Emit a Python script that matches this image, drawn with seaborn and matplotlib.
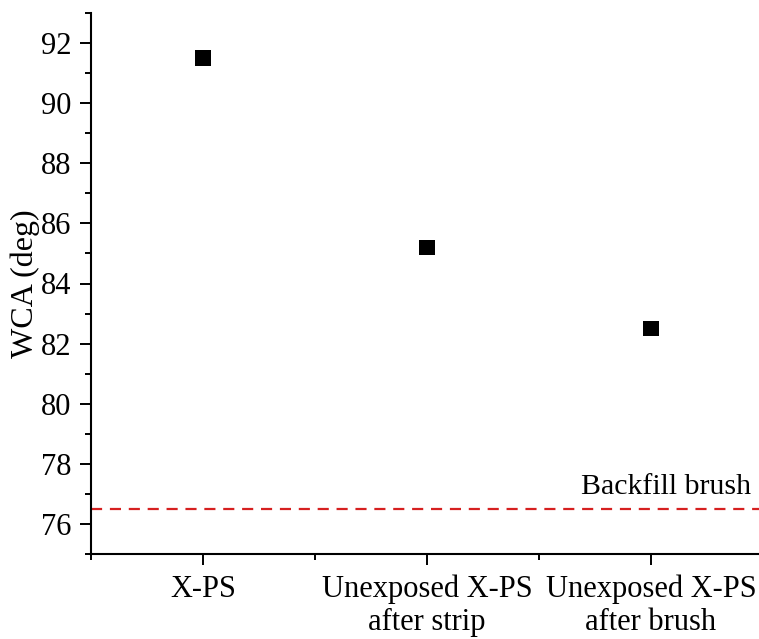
import matplotlib
matplotlib.use("Agg")
import matplotlib.pyplot as plt
from matplotlib.ticker import FixedLocator
import seaborn as sns
import pandas as pd

samples = ["X-PS", "Unexposed X-PS\nafter strip", "Unexposed X-PS\nafter brush"]
wca = [91.5, 85.2, 82.5]
backfill_wca = 76.5
backfill_label = "Backfill brush"

sns.set_theme(style="ticks")
plt.rcParams["font.family"] = ["Liberation Serif", "DejaVu Serif"]
plt.rcParams["text.color"] = "black"
plt.rcParams["axes.labelcolor"] = "black"

df = pd.DataFrame({"sample": samples, "wca": wca})

fig = plt.figure(figsize=(7.59, 6.39), dpi=100)
ax = fig.add_axes([91 / 759, 1 - 554 / 639, (763 - 91) / 759, (554 - 13) / 639])

sns.scatterplot(data=df, x="sample", y="wca", marker="s", s=120,
                color="black", edgecolor="none", ax=ax, zorder=3)

ax.axhline(backfill_wca, color="#d62020", linestyle=(0, (5, 3.5)), linewidth=1.6, zorder=2)
ax.text(2.445, backfill_wca + 0.3, backfill_label, ha="right", va="bottom",
        fontsize=21.5, color="black")

ax.set_xlim(-0.5, 2.5)
ax.set_ylim(75, 93)
ax.yaxis.set_major_locator(FixedLocator([76, 78, 80, 82, 84, 86, 88, 90, 92]))
ax.yaxis.set_minor_locator(FixedLocator([75, 77, 79, 81, 83, 85, 87, 89, 91, 93]))
ax.xaxis.set_minor_locator(FixedLocator([-0.5, 0.5, 1.5, 2.5]))

ax.set_xlabel("")
ax.set_ylabel("WCA (deg)", fontsize=23, labelpad=1, color="black")
ax.tick_params(axis="both", which="major", labelsize=22, length=8, width=1.4,
               direction="out", color="black", labelcolor="black")
ax.tick_params(axis="both", which="minor", length=4.5, width=1.4, direction="out", color="black")
ax.tick_params(axis="x", which="major", pad=7)
ax.tick_params(axis="y", which="major", pad=6)
for lbl in ax.get_xticklabels():
    lbl.set_linespacing(1.15)

for side in ("top", "right"):
    ax.spines[side].set_visible(False)
for side in ("left", "bottom"):
    ax.spines[side].set_linewidth(1.5)
    ax.spines[side].set_color("black")

fig.savefig("out.png", dpi=100)
